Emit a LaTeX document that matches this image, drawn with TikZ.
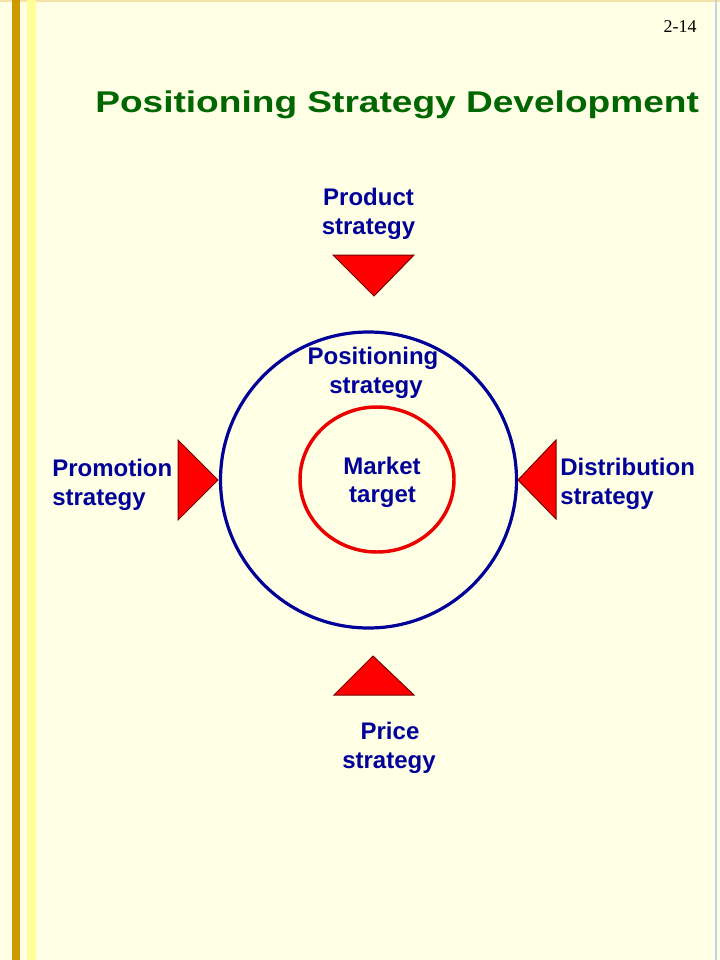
\documentclass[tikz,border=0pt]{standalone}
\usepackage{fontspec}
\setmainfont{Liberation Sans}
\newfontfamily\numfont{Liberation Serif}
\usepackage{graphicx}
\definecolor{bgcream}{RGB}{255,255,230}
\definecolor{stripegold}{RGB}{204,153,0}
\definecolor{stripelight}{RGB}{255,255,153}
\definecolor{topline}{RGB}{245,225,170}
\definecolor{rightline}{RGB}{190,212,222}
\definecolor{navytext}{RGB}{0,0,153}
\definecolor{titlegreen}{RGB}{0,102,0}
\definecolor{trired}{RGB}{255,0,0}
\definecolor{triedge}{RGB}{120,0,0}
\definecolor{ringred}{RGB}{235,0,0}
\tikzset{
  lbl/.style={inner sep=0pt, text=navytext, font=\fontsize{18}{21.6}\selectfont\bfseries},
  pointer/.style={fill=trired, draw=triedge, line width=0.75pt, line join=miter},
}
\begin{document}
\begin{tikzpicture}[x=0.75pt,y=-0.75pt]
\useasboundingbox (0,0) rectangle (720,960);
% background
\fill[bgcream] (0,0) rectangle (720,960);
\fill[topline] (0,0) rectangle (720,2);
\fill[rightline] (715,0) rectangle (717,960);
\fill[stripegold] (12,0) rectangle (20,960);
\fill[stripelight] (27,0) rectangle (36,960);
% slide number
\node[inner sep=0pt, anchor=base east, font=\numfont\fontsize{13.5}{16}\selectfont] (num) at (697,32) {2-14};
% title
\node[inner sep=0pt, anchor=base west, text=titlegreen, font=\fontsize{22.5}{27}\selectfont\bfseries] (title) at (95,112) {\scalebox{1.236}[1]{Positioning Strategy Development}};
% rings
\draw[navytext, line width=2.4pt] (368.5,480) circle (148);
\draw[ringred, line width=2.6pt] (377,479.5) ellipse (77 and 72.5);
% pointers
\path[pointer] (333,255) -- (414,255) -- (374,296) -- cycle;
\path[pointer] (334,695) -- (414,695) -- (373,656) -- cycle;
\path[pointer] (178,440) -- (178,520) -- (218,480) -- cycle;
\path[pointer] (556,440) -- (556,519) -- (518,480) -- cycle;
% labels
\node[lbl, anchor=base] (prodA) at (368.5,205) {Product};
\node[lbl, anchor=base] (prodB) at (368.5,234) {strategy};
\node[lbl, anchor=base] (posA) at (373,364) {Positioning};
\node[lbl, anchor=base] (posB) at (376,393) {strategy};
\node[lbl, anchor=base] (mktA) at (382,474) {Market};
\node[lbl, anchor=base] (mktB) at (382.5,502) {target};
\node[lbl, anchor=base west] (promA) at (52,476) {Promotion};
\node[lbl, anchor=base west] (promB) at (52,505) {strategy};
\node[lbl, anchor=base west] (distA) at (560,475) {Distribution};
\node[lbl, anchor=base west] (distB) at (560,504) {strategy};
\node[lbl, anchor=base] (priceA) at (390,739) {Price};
\node[lbl, anchor=base] (priceB) at (389,768) {strategy};
\end{tikzpicture}
\end{document}
